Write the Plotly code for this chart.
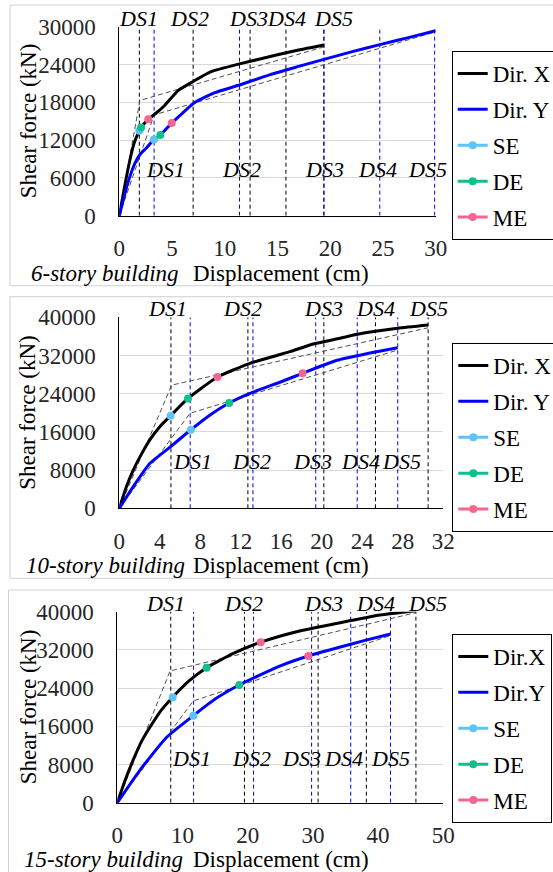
import plotly.graph_objects as go

W, H = 553, 872

# ------------------------------------------------------------------ data
# 6-story building
p6_dirx_disp = [0, 0.5, 1.0, 1.4, 1.9, 2.06, 2.75, 3.5, 4.3, 5.6, 7.0, 8.6, 11.4, 14.9, 17.0, 19.4]
p6_dirx_force = [0, 4600, 8800, 11500, 13500, 14000, 15300, 16300, 17500, 19900, 21300, 22800, 24100, 25500, 26300, 27100]
p6_diry_disp = [0, 0.5, 1.0, 1.5, 2.0, 2.6, 3.29, 3.89, 4.97, 6.0, 7.18, 9.0, 11.4, 14.3, 17.0, 19.4, 22.0, 24.7, 27.5, 30.0]
p6_diry_force = [0, 3300, 6200, 8400, 9800, 10800, 12100, 12800, 14700, 16300, 18000, 19500, 20750, 22400, 23700, 24820, 26000, 27150, 28300, 29350]
p6_bilin_x_disp = [0, 1.95, 19.4]
p6_bilin_x_force = [0, 18300, 26800]
p6_bilin_y_disp = [0, 3.3, 30.0]
p6_bilin_y_force = [0, 16000, 29200]
p6_ds_x = [1.9, 7.0, 12.4, 15.8, 19.4]
p6_ds_y = [3.3, 11.4, 19.4, 24.7, 29.9]
# performance points [SE, DE, ME]
p6_pts_x_disp = [1.9, 2.06, 2.75]
p6_pts_x_force = [13500, 14000, 15300]
p6_pts_y_disp = [3.29, 3.89, 4.97]
p6_pts_y_force = [12100, 12800, 14700]

# 10-story building
p10_dirx_disp = [0, 0.7, 1.38, 2.2, 3.03, 4.0, 5.07, 6.78, 8.0, 9.7, 12.9, 16.85, 19.15, 21.8, 23.4, 27.5, 30.5]
p10_dirx_force = [0, 4500, 8000, 11400, 14400, 17100, 19400, 23000, 25000, 27500, 30360, 32800, 34400, 35600, 36400, 37700, 38390]
p10_diry_disp = [0, 1.38, 3.03, 5.07, 7.07, 9.0, 10.85, 12.9, 15.86, 18.1, 21.5, 24.5, 27.5]
p10_diry_force = [0, 4540, 9420, 12910, 16450, 19600, 22050, 24080, 26400, 28270, 31000, 32400, 33640]
p10_bilin_x_disp = [0, 5.17, 30.5]
p10_bilin_x_force = [0, 25800, 37800]
p10_bilin_y_disp = [0, 6.98, 27.5]
p10_bilin_y_force = [0, 19900, 33150]
p10_ds_x = [5.1, 12.7, 20.2, 25.3, 30.5]
p10_ds_y = [7.0, 13.2, 19.4, 23.5, 27.5]
p10_pts_x_disp = [5.07, 6.78, 9.7]
p10_pts_x_force = [19400, 23000, 27500]
p10_pts_y_disp = [7.07, 10.85, 18.1]
p10_pts_y_force = [16450, 22050, 28270]

# 15-story building
p15_dirx_disp = [0, 1.2, 2.45, 3.7, 5.0, 6.7, 8.5, 11.0, 13.7, 17.8, 22.0, 27.5, 34.2, 40.3, 45.8]
p15_dirx_force = [0, 4700, 9000, 12800, 15800, 19300, 22100, 25500, 28270, 31270, 33620, 35810, 37700, 39300, 40200]
p15_diry_disp = [0, 3.48, 7.57, 11.66, 15.0, 18.7, 24.9, 29.3, 34.2, 38.0, 41.9]
p15_diry_force = [0, 6840, 13700, 18220, 21700, 24650, 28600, 30720, 32600, 34000, 35330]
p15_bilin_x_disp = [0, 8.1, 45.8]
p15_bilin_x_force = [0, 27600, 39800]
p15_bilin_y_disp = [0, 11.66, 41.9]
p15_bilin_y_force = [0, 21300, 35000]
p15_ds_x = [8.2, 19.5, 30.8, 38.2, 45.8]
p15_ds_y = [11.7, 20.9, 29.8, 35.8, 41.9]
p15_pts_x_disp = [8.5, 13.7, 22.0]
p15_pts_x_force = [22100, 28270, 33620]
p15_pts_y_disp = [11.66, 18.7, 29.3]
p15_pts_y_force = [18220, 24650, 30720]

ds_labels = ["DS1", "DS2", "DS3", "DS4", "DS5"]
perf_names = ["SE", "DE", "ME"]

# ------------------------------------------------------------------ style
FONT = "'Liberation Serif', 'Times New Roman', Times, serif"
FS = 23
FS_DS = 22
C_X = "#000000"
C_Y = "#0000FF"
C_PERF = ["#5EC4F7", "#10C08C", "#F4668F"]
C_GRID = "#D9D9D9"

panels = [
    dict(name="6-story building", dirx="Dir. X", diry="Dir. Y",
         dx=p6_dirx_disp, fx=p6_dirx_force, dy=p6_diry_disp, fy=p6_diry_force,
         bxd=p6_bilin_x_disp, bxf=p6_bilin_x_force, byd=p6_bilin_y_disp, byf=p6_bilin_y_force,
         dsx=p6_ds_x, dsy=p6_ds_y,
         pxd=p6_pts_x_disp, pxf=p6_pts_x_force, pyd=p6_pts_y_disp, pyf=p6_pts_y_force,
         xr=[0, 30], xdt=5, yr=[0, 30000], ydt=6000,
         plot_px=(119.3, 435.7, 26.7, 215.7), box_px=(10, 5, 285.7),
         leg_px=(451.7, 51), low_lbl_y=6940, title_dy=58,
         top_shift=[-1, -4, -2, 1, 10], low_shift=[11, 2, 1, -2, -7],
         bld_right=181),
    dict(name="10-story building", dirx="Dir. X", diry="Dir. Y",
         dx=p10_dirx_disp, fx=p10_dirx_force, dy=p10_diry_disp, fy=p10_diry_force,
         bxd=p10_bilin_x_disp, bxf=p10_bilin_x_force, byd=p10_bilin_y_disp, byf=p10_bilin_y_force,
         dsx=p10_ds_x, dsy=p10_ds_y,
         pxd=p10_pts_x_disp, pxf=p10_pts_x_force, pyd=p10_pts_y_disp, pyf=p10_pts_y_force,
         xr=[0, 32], xdt=4, yr=[0, 40000], ydt=8000,
         plot_px=(119.3, 443.3, 317.3, 508.3), box_px=(10, 296.7, 578.3),
         leg_px=(452.3, 343), low_lbl_y=9280, title_dy=57.5,
         top_shift=[-3, -5, 0, 0, 0], low_shift=[2, -1, -3, 3, 4],
         bld_right=187),
    dict(name="15-story building", dirx="Dir.X", diry="Dir.Y",
         dx=p15_dirx_disp, fx=p15_dirx_force, dy=p15_diry_disp, fy=p15_diry_force,
         bxd=p15_bilin_x_disp, bxf=p15_bilin_x_force, byd=p15_bilin_y_disp, byf=p15_bilin_y_force,
         dsx=p15_ds_x, dsy=p15_ds_y,
         pxd=p15_pts_x_disp, pxf=p15_pts_x_force, pyd=p15_pts_y_disp, pyf=p15_pts_y_force,
         xr=[0, 50], xdt=10, yr=[0, 40000], ydt=8000,
         plot_px=(117.3, 443.3, 611.7, 802.7), box_px=(8.5, 590, 900),
         leg_px=(452.3, 634), low_lbl_y=8940, title_dy=56.5,
         top_shift=[-5, -1, 5, 9, 12], low_shift=[-2, -2, -10, -7, 0],
         bld_right=185),
]

fig = go.Figure()
layout = dict(width=W, height=H, margin=dict(l=0, r=0, t=0, b=0, autoexpand=False),
              paper_bgcolor="white", plot_bgcolor="white", showlegend=True,
              font=dict(family=FONT, size=FS, color="#000000"))
annotations = []
shapes = []

for i, p in enumerate(panels):
    k = "" if i == 0 else str(i + 1)
    xa, ya = "x" + k, "y" + k
    leg = "legend" + k
    x0, x1, y0, y1 = p["plot_px"]
    layout["xaxis" + k] = dict(
        domain=[x0 / W, x1 / W], range=p["xr"], dtick=p["xdt"], anchor=ya,
        showgrid=False, zeroline=False, showline=True, linecolor="#000000", linewidth=1,
        ticks="", ticklabelstandoff=12, tickformat="d",
        tickfont=dict(family=FONT, size=FS, color="#262626"), fixedrange=True)
    layout["yaxis" + k] = dict(
        domain=[1 - y1 / H, 1 - y0 / H], range=p["yr"], dtick=p["ydt"], anchor=xa,
        showgrid=True, gridcolor=C_GRID, gridwidth=1, zeroline=False,
        showline=True, linecolor="#000000", linewidth=1,
        ticks="", ticklabelstandoff=18, tickformat="d",
        tickfont=dict(family=FONT, size=FS, color="#262626"), fixedrange=True)
    lx, ly = p["leg_px"]
    layout[leg] = dict(
        x=lx / W, y=1 - ly / H, xanchor="left", yanchor="top",
        bgcolor="white", bordercolor="#000000", borderwidth=1,
        font=dict(family=FONT, size=FS, color="#000000"),
        tracegroupgap=3, itemwidth=30)

    ymax = p["yr"][1]
    # vertical damage-state lines
    for xv in p["dsx"]:
        fig.add_trace(go.Scatter(x=[xv, xv], y=[0, ymax], mode="lines", xaxis=xa, yaxis=ya,
                                 line=dict(color="#000000", width=1, dash="4px,3px"),
                                 showlegend=False, hoverinfo="skip"))
    for xv in p["dsy"]:
        fig.add_trace(go.Scatter(x=[xv, xv], y=[0, ymax], mode="lines", xaxis=xa, yaxis=ya,
                                 line=dict(color="#0000FF", width=1, dash="4px,3px"),
                                 showlegend=False, hoverinfo="skip"))
    # bilinear idealisations
    for bd, bf in ((p["bxd"], p["bxf"]), (p["byd"], p["byf"])):
        fig.add_trace(go.Scatter(x=bd, y=bf, mode="lines", xaxis=xa, yaxis=ya,
                                 line=dict(color="#505050", width=1, dash="5px,3px"),
                                 showlegend=False, hoverinfo="skip"))
    # capacity curves
    fig.add_trace(go.Scatter(x=p["dx"], y=p["fx"], mode="lines", name=p["dirx"], xaxis=xa, yaxis=ya,
                             line=dict(color=C_X, width=3, shape="spline", smoothing=0.5),
                             legend=leg, legendgroup=f"{i}a"))
    fig.add_trace(go.Scatter(x=p["dy"], y=p["fy"], mode="lines", name=p["diry"], xaxis=xa, yaxis=ya,
                             line=dict(color=C_Y, width=3, shape="spline", smoothing=0.5),
                             legend=leg, legendgroup=f"{i}b"))
    # performance points
    for j, nm in enumerate(perf_names):
        fig.add_trace(go.Scatter(
            x=[p["pxd"][j], None, p["pyd"][j]], y=[p["pxf"][j], None, p["pyf"][j]],
            mode="lines+markers", name=nm, xaxis=xa, yaxis=ya, connectgaps=False,
            line=dict(color=C_PERF[j], width=3), marker=dict(color=C_PERF[j], size=8),
            legend=leg, legendgroup=f"{i}{nm}"))

    # DS labels
    for j, (xv, t) in enumerate(zip(p["dsx"], ds_labels)):
        annotations.append(dict(x=xv, y=ymax, xref=xa, yref=ya, text=t, showarrow=False,
                                xanchor="center", yanchor="bottom", yshift=-6,
                                xshift=p["top_shift"][j],
                                font=dict(family=FONT, size=FS_DS, color="#000000", style="italic")))
    for j, (xv, t) in enumerate(zip(p["dsy"], ds_labels)):
        annotations.append(dict(x=xv, y=p["low_lbl_y"], xref=xa, yref=ya, text=t, showarrow=False,
                                xanchor="center", yanchor="middle", yshift=2,
                                xshift=p["low_shift"][j],
                                font=dict(family=FONT, size=FS_DS, color="#000000", style="italic")))
    # axis titles
    ty = 1 - (y1 + p["title_dy"]) / H
    annotations.append(dict(x=p["bld_right"] / W, y=ty, xref="paper", yref="paper",
                            text=p["name"], showarrow=False, xanchor="right", align="right",
                            yanchor="middle",
                            font=dict(family=FONT, size=FS, color="#000000", style="italic")))
    annotations.append(dict(x=191 / W, y=ty, xref="paper", yref="paper",
                            text="Displacement (cm)", showarrow=False, xanchor="left", align="left",
                            yanchor="middle",
                            font=dict(family=FONT, size=FS, color="#000000")))
    annotations.append(dict(x=28 / W, y=1 - ((y0 + y1) / 2) / H, xref="paper", yref="paper",
                            text="Shear force (kN)", showarrow=False, textangle=-90,
                            xanchor="center", yanchor="middle",
                            font=dict(family=FONT, size=FS, color="#000000")))
    # panel frame
    bx, bt, bb = p["box_px"]
    shapes.append(dict(type="rect", xref="paper", yref="paper", x0=bx / W, x1=1.1,
                       y0=1 - bb / H, y1=1 - bt / H, line=dict(color="#D0D0D0", width=1),
                       layer="below"))

layout["annotations"] = annotations
layout["shapes"] = shapes
fig.update_layout(**layout)
fig.write_html("out.html", config={"displayModeBar": False},
               post_script="document.body.style.margin='0';document.body.style.overflow='hidden';")
